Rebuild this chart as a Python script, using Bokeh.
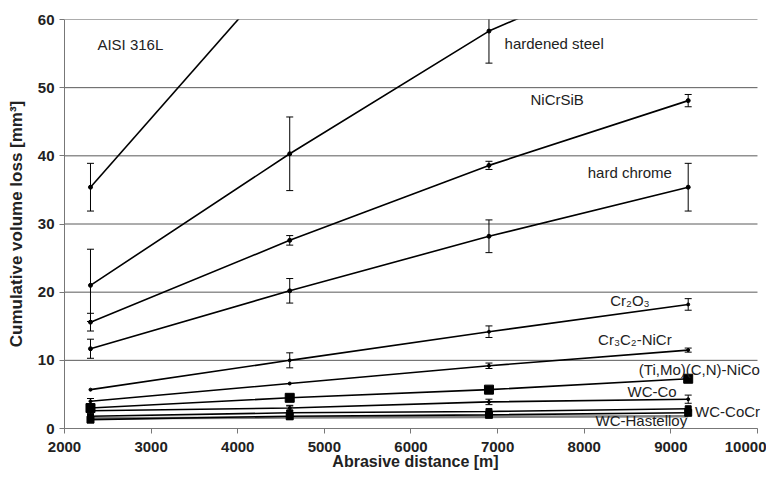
from bokeh.plotting import figure
from bokeh.models import Range1d, FixedTicker, Label, Whisker, ColumnDataSource, TeeHead
from bokeh.embed import file_html
from bokeh.resources import INLINE

# ---------------- data ----------------
distance = [2300, 4600, 6900, 9200]
x_ticks = [2000, 3000, 4000, 5000, 6000, 7000, 8000, 9000, 10000]
y_ticks = [0, 10, 20, 30, 40, 50, 60]

aisi_x = [2300, 4600]
aisi = [35.4, 68.6]
aisi_err = [3.5, 0.0]

hardened = [21.0, 40.3, 58.3, 71.0]
hardened_err = [5.3, 5.4, 4.7, 0.0]

nicrsib = [15.6, 27.6, 38.6, 48.1]
nicrsib_err = [1.3, 0.7, 0.6, 0.9]

hard_chrome = [11.7, 20.2, 28.2, 35.4]
hard_chrome_err = [1.4, 1.8, 2.4, 3.5]

cr2o3 = [5.7, 10.0, 14.2, 18.2]
cr2o3_err = [0.0, 1.1, 0.85, 0.85]

cr3c2 = [4.0, 6.6, 9.2, 11.5]
cr3c2_err = [0.4, 0.0, 0.4, 0.3]

timo = [3.0, 4.5, 5.7, 7.3]

wc_co = [2.6, 3.0, 3.9, 4.3]
wc_co_err = [0.5, 0.4, 0.4, 0.6]

wc_cocr = [1.8, 2.3, 2.5, 2.9]
wc_cocr_err = [0.0, 1.0, 0.0, 0.0]

wc_hastelloy = [1.3, 1.8, 2.0, 2.3]
grey_line = [1.5, 1.6, 1.7, 1.8]

labels = ["AISI 316L", "hardened steel", "NiCrSiB", "hard chrome", "Cr\u2082O\u2083",
          "Cr\u2083C\u2082-NiCr", "(Ti,Mo)(C,N)-NiCo", "WC-Co", "WC-CoCr", "WC-Hastelloy"]
label_x = [2380, 7080, 7380, 8040, 8300, 8160, 8630, 8500, 9280, 8130]
label_y = [56.4, 56.5, 48.3, 37.5, 18.8, 13.0, 8.6, 5.4, 2.5, 1.2]

FONT = "Liberation Sans"

p = figure(width=766, height=474, output_backend="svg", toolbar_location=None,
           x_range=Range1d(2000, 10104), y_range=Range1d(0, 60),
           min_border_left=64, min_border_right=0, min_border_top=19,
           min_border_bottom=46)
p.outline_line_color = None
p.background_fill_color = "white"
p.border_fill_color = "white"

# horizontal grid lines that stop at the last x tick, as in the original
p.xgrid.visible = False
p.ygrid.visible = False
p.segment(x0=[x_ticks[0]] * len(y_ticks), x1=[x_ticks[-1]] * len(y_ticks),
          y0=y_ticks, y1=y_ticks, line_color="#5a5a5a", line_width=1, level="underlay")

for ax, ticks in ((p.xaxis, x_ticks), (p.yaxis, y_ticks)):
    ax.ticker = FixedTicker(ticks=ticks)
    ax.major_label_text_font = FONT
    ax.major_label_text_font_style = "bold"
    ax.major_label_text_font_size = "15px"
    ax.major_label_text_color = "#222222"
    ax.major_tick_out = 5
    ax.major_tick_in = 0
    ax.minor_tick_out = 0
    ax.minor_tick_in = 0
    ax.axis_line_color = "#777777"
    ax.major_tick_line_color = "#777777"
    ax.axis_label_text_font = FONT
    ax.axis_label_text_font_style = "bold"
    ax.axis_label_text_color = "#222222"

p.xaxis.bounds = (x_ticks[0], x_ticks[-1])
p.xaxis.axis_label = "Abrasive distance [m]"
p.xaxis.axis_label_text_font_size = "16px"
p.xaxis.major_label_standoff = 8
p.xaxis.axis_label_standoff = -2
p.yaxis.axis_label = "Cumulative volume loss [mm\u00b3]"
p.yaxis.axis_label_text_font_size = "17px"
p.yaxis.major_label_standoff = 5
p.yaxis.axis_label_standoff = 9


def add_series(xs, ys, errs=None, marker=None, msize=4, color="black", width=1.6):
    p.line(xs, ys, line_color=color, line_width=width)
    if marker == "square":
        p.scatter(xs, ys, marker="square", size=msize, fill_color="black", line_color="black")
    elif marker == "dot":
        p.scatter(xs, ys, marker="circle", size=msize, fill_color="black", line_color="black")
    if errs is not None:
        bx = [x for x, e in zip(xs, errs) if e > 0]
        lo = [y - e for y, e in zip(ys, errs) if e > 0]
        up = [y + e for y, e in zip(ys, errs) if e > 0]
        src = ColumnDataSource(dict(base=bx, lower=lo, upper=up))
        w = Whisker(base="base", lower="lower", upper="upper", source=src,
                    dimension="height", line_color="black", line_width=1,
                    upper_head=TeeHead(size=7, line_width=1, line_color="black"),
                    lower_head=TeeHead(size=7, line_width=1, line_color="black"))
        p.add_layout(w)


add_series(distance, grey_line, color="#808080", width=2.5)
add_series(aisi_x, aisi, aisi_err, marker="dot")
add_series(distance, hardened, hardened_err, marker="dot")
add_series(distance, nicrsib, nicrsib_err, marker="dot")
add_series(distance, hard_chrome, hard_chrome_err, marker="dot")
add_series(distance, cr2o3, cr2o3_err, marker="dot", msize=3)
add_series(distance, cr3c2, cr3c2_err, marker="dot", msize=3)
add_series(distance, timo, marker="square", msize=9)
add_series(distance, wc_co, wc_co_err, marker="dot", msize=3)
add_series(distance, wc_cocr, wc_cocr_err, marker="square", msize=6)
add_series(distance, wc_hastelloy, marker="square", msize=7)

for t, lx, ly in zip(labels, label_x, label_y):
    lab = Label(x=lx, y=ly, text=t, text_font=FONT, text_font_size="15px",
                text_color="#222222", text_baseline="middle", text_align="left",
                level="overlay")
    p.add_layout(lab)

open("out.html", "w").write(file_html(p, INLINE))
